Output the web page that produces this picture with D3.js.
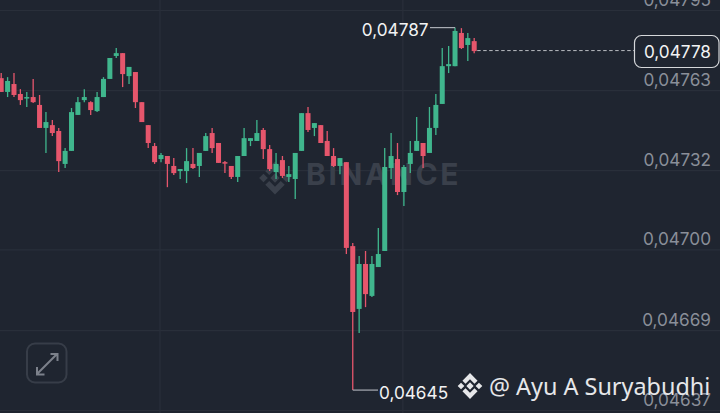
<!DOCTYPE html>
<html>
<head>
<meta charset="utf-8">
<script src="https://cdn.jsdelivr.net/npm/d3@7"></script>
<style>
  html, body { margin: 0; padding: 0; background: #1f2530; }
  svg { display: block; }
</style>
</head>
<body>
<div class="responsive-svg-container"></div>
<script>
// candle values, price
const opens = [0.047672,0.047618,0.047649,0.047610,0.047594,0.047598,0.047567,0.047477,0.047488,0.047465,0.047336,0.047387,0.047528,0.047586,0.047578,0.047543,0.047598,0.047669,0.047759,0.047770,0.047680,0.047696,0.047578,0.047488,0.047406,0.047355,0.047367,0.047328,0.047308,0.047308,0.047336,0.047328,0.047387,0.047457,0.047418,0.047343,0.047328,0.047285,0.047367,0.047426,0.047426,0.047469,0.047394,0.047304,0.047351,0.047285,0.047277,0.047387,0.047535,0.047477,0.047488,0.047426,0.047367,0.047328,0.047343,0.047014,0.046768,0.046944,0.046819,0.046932,0.046995,0.047320,0.047355,0.047226,0.047336,0.047387,0.047418,0.047379,0.047477,0.047571,0.047719,0.047719,0.047849,0.047802,0.047817];
const closes = [0.047618,0.047661,0.047606,0.047586,0.047598,0.047578,0.047477,0.047500,0.047457,0.047347,0.047387,0.047539,0.047578,0.047598,0.047547,0.047598,0.047669,0.047751,0.047770,0.047688,0.047716,0.047578,0.047500,0.047418,0.047343,0.047371,0.047336,0.047300,0.047316,0.047347,0.047320,0.047379,0.047445,0.047398,0.047340,0.047340,0.047285,0.047367,0.047437,0.047437,0.047457,0.047394,0.047316,0.047336,0.047289,0.047296,0.047379,0.047535,0.047469,0.047496,0.047418,0.047367,0.047328,0.047359,0.047007,0.046756,0.046944,0.046826,0.046944,0.046983,0.047324,0.047367,0.047226,0.047324,0.047379,0.047426,0.047367,0.047477,0.047567,0.047719,0.047727,0.047857,0.047790,0.047829,0.047778];
const highs = [0.047692,0.047676,0.047692,0.047629,0.047618,0.047669,0.047606,0.047539,0.047508,0.047477,0.047398,0.047555,0.047598,0.047629,0.047582,0.047618,0.047676,0.047751,0.047790,0.047770,0.047716,0.047696,0.047578,0.047488,0.047418,0.047379,0.047367,0.047359,0.047316,0.047398,0.047398,0.047379,0.047457,0.047477,0.047418,0.047347,0.047328,0.047367,0.047477,0.047437,0.047508,0.047477,0.047410,0.047379,0.047367,0.047328,0.047379,0.047535,0.047559,0.047496,0.047488,0.047465,0.047398,0.047359,0.047343,0.047026,0.046975,0.046995,0.046975,0.047085,0.047398,0.047457,0.047418,0.047332,0.047426,0.047520,0.047418,0.047559,0.047610,0.047790,0.047798,0.047870,0.047868,0.047849,0.047829];
const lows = [0.047618,0.047598,0.047598,0.047567,0.047559,0.047575,0.047477,0.047379,0.047445,0.047304,0.047320,0.047387,0.047528,0.047578,0.047528,0.047539,0.047598,0.047669,0.047751,0.047637,0.047649,0.047555,0.047500,0.047398,0.047336,0.047343,0.047245,0.047293,0.047277,0.047261,0.047316,0.047285,0.047387,0.047379,0.047340,0.047300,0.047277,0.047265,0.047367,0.047406,0.047426,0.047355,0.047308,0.047277,0.047281,0.047265,0.047199,0.047387,0.047461,0.047445,0.047418,0.047367,0.047324,0.047296,0.046983,0.046450,0.046674,0.046775,0.046815,0.046932,0.046995,0.047277,0.047214,0.047171,0.047300,0.047387,0.047320,0.047379,0.047449,0.047571,0.047692,0.047719,0.047786,0.047739,0.047770];

// price axis
const gridPrices = [0.047939,0.047625,0.047312,0.047001,0.046685,0.046372];
const priceLabels = ["0,04795","0,04763","0,04732","0,04700","0,04669","0,04637"];
const gridCandles = [25,63];

// callouts
const highPrice = 0.04787, highLabel = "0,04787", highIndex = 71;
const lowPrice = 0.04645, lowLabel = "0,04645", lowIndex = 55;
const lastPrice = 0.04778, lastLabel = "0,04778";

const bg = "#1f2530", red = "#e6566c", green = "#3fb68d", gridColor = "#292f3a";
const width = 720, height = 413;

// create svg canvas
const svg = d3.select(".responsive-svg-container")
  .append("svg")
  .attr("width", width)
  .attr("height", height)
  .attr("viewBox", `0 0 ${width} ${height}`)
  .style("background", bg);

const defs = svg.append("defs");
defs.append("filter").attr("id", "soft")
  .append("feGaussianBlur").attr("stdDeviation", 0.4);

const xScale = d3.scaleLinear()
  .domain([0, opens.length - 1])
  .range([1.2, 474.2]);

const yScale = d3.scaleLinear()
  .domain([d3.min(gridPrices), d3.max(gridPrices)])
  .range([410, 10]);

// grid
const yAxis = d3.axisRight(yScale)
  .tickValues(gridPrices)
  .tickSize(width)
  .tickFormat((d, i) => priceLabels[i]);

const axisG = svg.append("g").attr("class", "y-axis").call(yAxis);
axisG.select(".domain").remove();
axisG.selectAll("line").attr("stroke", gridColor).attr("stroke-width", 1.2);
axisG.selectAll("text").remove();

svg.append("g").selectAll("line")
  .data(gridCandles)
  .join("line")
  .attr("x1", d => xScale(d) - 1)
  .attr("x2", d => xScale(d) - 1)
  .attr("y1", 0)
  .attr("y2", height)
  .attr("stroke", gridColor)
  .attr("stroke-width", 1.2);

// binance logo, drawn around 0,0 in a 100 unit box
const drawLogo = (parent, cx, cy, size, color) => {
  const g = parent.append("g")
    .attr("transform", `translate(${cx},${cy}) scale(${size / 100})`)
    .attr("fill", color);
  const shapes = [
    "0,-13 13,0 0,13 -13,0",
    "-32,-12 -20,0 -32,12 -44,0",
    "32,-12 44,0 32,12 20,0",
    "0,-46 27,-19 16,-8 0,-24 -16,-8 -27,-19",
    "0,46 27,19 16,8 0,24 -16,8 -27,19"
  ];
  g.selectAll("polygon").data(shapes).join("polygon").attr("points", d => d);
};

// watermark
const mark = svg.append("g");
drawLogo(mark, 275, 178, 36, "#3a404b");
mark.append("text")
  .attr("x", 306)
  .attr("y", 185)
  .attr("font-family", "Inter, sans-serif")
  .attr("font-weight", 700)
  .attr("font-size", 30)
  .attr("letter-spacing", 2.6)
  .attr("fill", "#3a404b")
  .text("BINANCE");

// candles
const indexes = d3.range(opens.length);
const candleColor = i => closes[i] >= opens[i] ? green : red;

const candles = svg.append("g").attr("filter", "url(#soft)");

candles.selectAll("line")
  .data(indexes)
  .join("line")
  .attr("x1", i => xScale(i))
  .attr("x2", i => xScale(i))
  .attr("y1", i => yScale(highs[i]))
  .attr("y2", i => yScale(lows[i]))
  .attr("stroke", candleColor)
  .attr("stroke-width", 1.3);

candles.selectAll("rect")
  .data(indexes)
  .join("rect")
  .attr("x", i => xScale(i) - 2.5)
  .attr("y", i => yScale(Math.max(opens[i], closes[i])))
  .attr("width", 5)
  .attr("height", i => Math.max(1.5, Math.abs(yScale(opens[i]) - yScale(closes[i]))))
  .attr("fill", candleColor);

// price labels
svg.append("g").selectAll("text")
  .data(gridPrices)
  .join("text")
  .attr("x", 711)
  .attr("y", d => yScale(d) - 4)
  .attr("text-anchor", "end")
  .attr("font-family", "Inter, sans-serif")
  .attr("font-size", 17.2)
  .attr("fill", "#8a8f99")
  .text((d, i) => priceLabels[i]);

// last price
svg.append("line")
  .attr("x1", xScale(opens.length - 1) + 3)
  .attr("x2", 634)
  .attr("y1", yScale(lastPrice))
  .attr("y2", yScale(lastPrice))
  .attr("stroke", "#b9bcc2")
  .attr("stroke-width", 1)
  .attr("stroke-dasharray", "3.5 2.5");

svg.append("rect")
  .attr("x", 634.5)
  .attr("y", 35.5)
  .attr("width", 84.5)
  .attr("height", 32)
  .attr("rx", 7)
  .attr("fill", bg)
  .attr("stroke", "#d5d7da")
  .attr("stroke-width", 1.2);

svg.append("text")
  .attr("x", 711)
  .attr("y", 57.5)
  .attr("text-anchor", "end")
  .attr("font-family", "Inter, sans-serif")
  .attr("font-size", 17.2)
  .attr("fill", "#f2f3f4")
  .text(lastLabel);

// high and low callouts
svg.append("path")
  .attr("d", `M430,${yScale(highPrice)}H${xScale(highIndex)}`)
  .attr("fill", "none")
  .attr("stroke", "#a9adb4")
  .attr("stroke-width", 1.2);

svg.append("text")
  .attr("x", 428.5)
  .attr("y", yScale(highPrice) + 8)
  .attr("text-anchor", "end")
  .attr("font-family", "Inter, sans-serif")
  .attr("font-size", 17.2)
  .attr("fill", "#f2f3f4")
  .text(highLabel);

svg.append("path")
  .attr("d", `M${xScale(lowIndex)},${yScale(lowPrice)}H378`)
  .attr("fill", "none")
  .attr("stroke", "#a9adb4")
  .attr("stroke-width", 1.2);

svg.append("text")
  .attr("x", 379)
  .attr("y", yScale(lowPrice) + 9)
  .attr("font-family", "Inter, sans-serif")
  .attr("font-size", 17.2)
  .attr("fill", "#f2f3f4")
  .text(lowLabel);

// expand button
const btn = svg.append("g");
btn.append("rect")
  .attr("x", 27)
  .attr("y", 343.5)
  .attr("width", 39.5)
  .attr("height", 39)
  .attr("rx", 8)
  .attr("fill", "none")
  .attr("stroke", "#373d48")
  .attr("stroke-width", 2);
btn.append("path")
  .attr("d", "M37,374L57,354M50.5,354H57.5V361M37,367V374.5H44.5")
  .attr("fill", "none")
  .attr("stroke", "#7c818b")
  .attr("stroke-width", 2);

// author tag
drawLogo(svg, 470, 386, 28, "#e6e7e9");
svg.append("text")
  .attr("x", 489)
  .attr("y", 395)
  .attr("font-family", "'Noto Sans', sans-serif")
  .attr("font-size", 23.4)
  .attr("fill", "#e6e7e9")
  .text("@ Ayu A Suryabudhi");
</script>
</body>
</html>
